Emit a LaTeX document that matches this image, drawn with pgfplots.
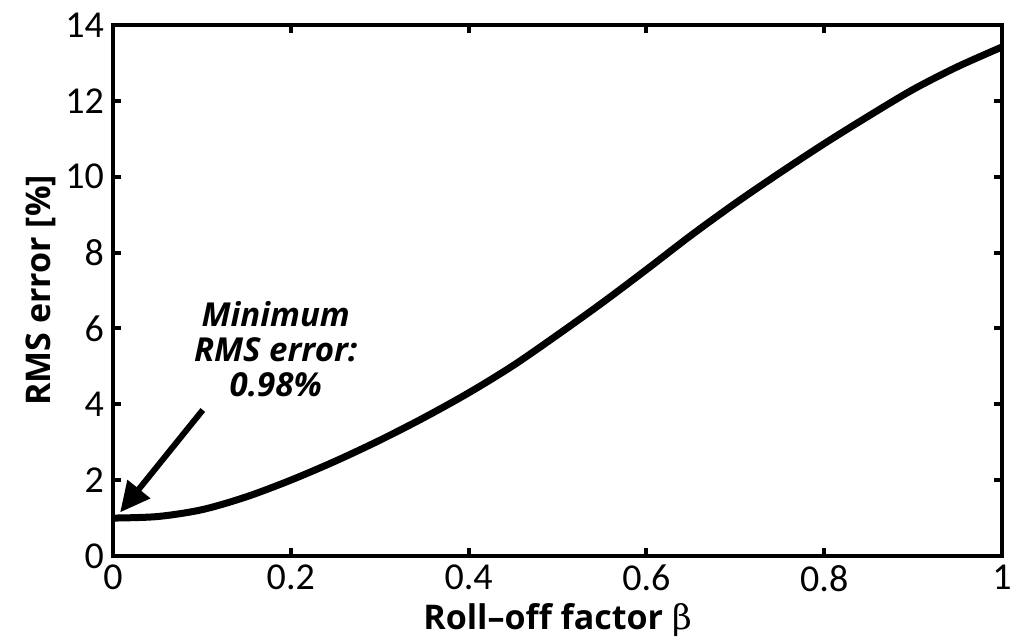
\documentclass[border=0pt]{standalone}
\usepackage{fontspec}
\setmainfont{Carlito}
\newfontfamily\labfont{Open Sans}
\usepackage{pgfplots}
\pgfplotsset{compat=1.18}
\usetikzlibrary{arrows.meta}
\begin{document}
\begin{tikzpicture}
\begin{axis}[
  name=ax,
  scale only axis,
  width=444.5pt, height=265.5pt,
  xmin=0, xmax=1, ymin=0, ymax=14,
  xtick={0,0.2,0.4,0.6,0.8,1},
  xticklabels={0,0.2,0.4,0.6,0.8,1},
  ytick={0,2,4,6,8,10,12,14},
  tick align=inside,
  major tick length=4pt,
  every tick/.style={black, line width=2pt},
  axis line style={line width=2pt},
  /pgf/number format/assume math mode=true,
  tick label style={font=\fontsize{19}{22}\selectfont},
  xticklabel style={yshift=-1pt},
  yticklabel style={xshift=-1pt},
  xlabel={\labfont\bfseries Roll–off factor \normalfont\fontspec{DejaVu Serif}β},
  ylabel={\labfont\bfseries RMS error [\%]},
  label style={font=\fontsize{17}{20}\selectfont},
  xlabel style={yshift=1pt},
  ylabel style={yshift=-2pt},
  clip=false,
]
\addplot[black, line width=3.5pt, smooth] coordinates {
(0,1.0) (0.05,1.04) (0.1,1.22) (0.15,1.56) (0.2,2.0) (0.25,2.5) (0.3,3.05)
(0.35,3.65) (0.4,4.3) (0.45,5.02) (0.5,5.83) (0.55,6.67) (0.6,7.55) (0.65,8.45)
(0.7,9.3) (0.75,10.1) (0.8,10.87) (0.85,11.6) (0.9,12.3) (0.95,12.9) (1,13.42)
};
\draw[black, line width=3pt, -{Triangle[length=15pt, width=14pt]}]
  (axis cs:0.101,3.85) -- (axis cs:0.008,1.15);
\node[align=center, font=\fontsize{16.5}{17.5}\selectfont\labfont\bfseries\itshape, inner sep=0pt]
  at (axis cs:0.183,5.45) {Minimum\\RMS error:\\0.98\%};
\end{axis}
\pgfresetboundingbox
\path (ax.south west) ++(-56.5pt,-42.5pt) coordinate (bl);
\path (ax.north east) ++(9pt,12.5pt) coordinate (tr);
\useasboundingbox (bl) rectangle (tr);
\end{tikzpicture}
\end{document}
